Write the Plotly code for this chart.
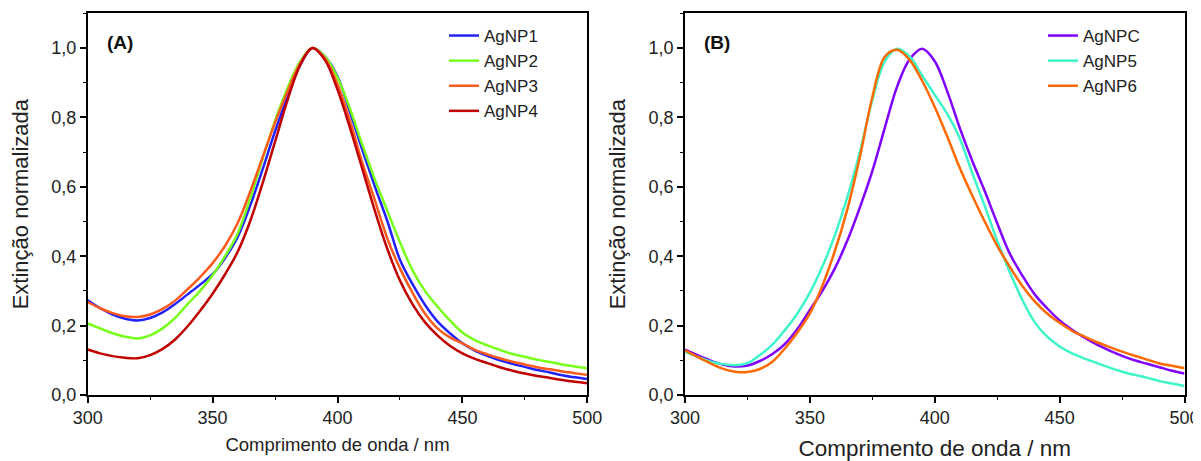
import plotly.graph_objects as go

# ---------------- data ----------------
wavelength = list(range(300, 505, 5))

agnp1 = [0.273, 0.250, 0.232, 0.220, 0.215, 0.222, 0.238, 0.262, 0.290, 0.318,
         0.348, 0.395, 0.455, 0.545, 0.650, 0.760, 0.860, 0.950, 1.000, 0.975,
         0.918, 0.815, 0.705, 0.600, 0.500, 0.390, 0.320, 0.260, 0.212, 0.178,
         0.149, 0.128, 0.113, 0.100, 0.090, 0.081, 0.072, 0.065, 0.057, 0.051, 0.046]
agnp2 = [0.206, 0.192, 0.178, 0.168, 0.163, 0.172, 0.192, 0.222, 0.262, 0.300,
         0.345, 0.400, 0.465, 0.565, 0.680, 0.790, 0.885, 0.960, 1.000, 0.975,
         0.915, 0.825, 0.720, 0.620, 0.530, 0.440, 0.360, 0.300, 0.255, 0.215,
         0.180, 0.158, 0.143, 0.130, 0.118, 0.110, 0.102, 0.095, 0.088, 0.082, 0.077]
agnp3 = [0.268, 0.250, 0.236, 0.227, 0.225, 0.232, 0.248, 0.272, 0.305, 0.340,
         0.380, 0.430, 0.495, 0.585, 0.685, 0.785, 0.875, 0.955, 1.000, 0.970,
         0.895, 0.790, 0.668, 0.560, 0.450, 0.365, 0.295, 0.235, 0.192, 0.166,
         0.149, 0.130, 0.117, 0.106, 0.096, 0.088, 0.080, 0.074, 0.068, 0.063, 0.058]
agnp4 = [0.131, 0.120, 0.112, 0.107, 0.106, 0.115, 0.133, 0.160, 0.198, 0.243,
         0.292, 0.348, 0.412, 0.500, 0.610, 0.730, 0.850, 0.950, 1.000, 0.965,
         0.880, 0.770, 0.650, 0.530, 0.420, 0.330, 0.262, 0.210, 0.172, 0.142,
         0.120, 0.104, 0.092, 0.080, 0.070, 0.062, 0.055, 0.049, 0.043, 0.038, 0.034]

agnpc = [0.131, 0.115, 0.100, 0.088, 0.082, 0.085, 0.098, 0.118, 0.147, 0.190,
         0.245, 0.300, 0.365, 0.445, 0.540, 0.645, 0.770, 0.890, 0.968, 0.998,
         0.962, 0.875, 0.770, 0.675, 0.588, 0.495, 0.408, 0.345, 0.290, 0.250,
         0.215, 0.188, 0.165, 0.145, 0.128, 0.113, 0.100, 0.090, 0.080, 0.070, 0.062]
agnp5 = [0.124, 0.110, 0.097, 0.089, 0.086, 0.092, 0.115, 0.145, 0.187, 0.235,
         0.295, 0.370, 0.460, 0.570, 0.700, 0.850, 0.962, 0.998, 0.975, 0.920,
         0.865, 0.810, 0.740, 0.640, 0.545, 0.445, 0.355, 0.275, 0.210, 0.168,
         0.140, 0.120, 0.105, 0.092, 0.079, 0.067, 0.058, 0.050, 0.040, 0.033, 0.026]
agnp6 = [0.129, 0.110, 0.092, 0.076, 0.067, 0.066, 0.075, 0.096, 0.134, 0.180,
         0.235, 0.315, 0.415, 0.535, 0.685, 0.858, 0.975, 0.995, 0.965, 0.905,
         0.830, 0.745, 0.655, 0.575, 0.500, 0.430, 0.370, 0.315, 0.270, 0.235,
         0.208, 0.185, 0.168, 0.152, 0.138, 0.125, 0.113, 0.102, 0.091, 0.084, 0.077]

names_a = ["AgNP1", "AgNP2", "AgNP3", "AgNP4"]
series_a = [agnp1, agnp2, agnp3, agnp4]
colors_a = ["#2222FF", "#77FF1A", "#FF5A1E", "#C00000"]

names_b = ["AgNPC", "AgNP5", "AgNP6"]
series_b = [agnpc, agnp5, agnp6]
colors_b = ["#8000FF", "#3DF5C8", "#FF6A00"]

x_ticks = [300, 350, 400, 450, 500]
y_ticks = [0.0, 0.2, 0.4, 0.6, 0.8, 1.0]

FONT = "Arial, Liberation Sans, Helvetica, sans-serif"
# page body adds an 8px offset, so the figure is 8px smaller and shifted
OFF = 8
W, H = 1201 - OFF, 461 - OFF

fig = go.Figure()
for n, s, c in zip(names_a, series_a, colors_a):
    fig.add_trace(go.Scatter(x=wavelength, y=s, name=n, mode="lines",
                             line=dict(color=c, width=2.5, shape="spline", smoothing=1.0),
                             xaxis="x", yaxis="y", legend="legend"))
for n, s, c in zip(names_b, series_b, colors_b):
    fig.add_trace(go.Scatter(x=wavelength, y=s, name=n, mode="lines",
                             line=dict(color=c, width=2.5, shape="spline", smoothing=1.0),
                             xaxis="x2", yaxis="y2", legend="legend2"))

ybot = 1 - (395 - OFF) / H
ytop = 1 - (13.3 - OFF) / H

def xaxis(domain, title_size, standoff, anchor):
    return dict(domain=domain, anchor=anchor, range=[300, 500], tickvals=x_ticks,
                automargin=False,
                showline=True, linecolor="black", linewidth=1.6, mirror=True,
                ticks="outside", ticklen=6, tickwidth=1.5, tickcolor="black",
                minor=dict(ticks="outside", ticklen=3, tickwidth=1.3, dtick=25, tick0=300,
                           tickcolor="black"),
                showgrid=False, zeroline=False,
                tickfont=dict(size=18, color="#222", family=FONT),
                title=dict(text="Comprimento de onda / nm", standoff=standoff,
                           font=dict(size=title_size, color="#222", family=FONT)))

def yaxis(anchor):
    return dict(domain=[ybot, ytop], anchor=anchor, range=[0, 1.1], tickvals=y_ticks,
                tickformat=".1f", automargin=False,
                showline=True, linecolor="black", linewidth=1.6, mirror=True,
                ticks="outside", ticklen=6, tickwidth=1.5, tickcolor="black",
                minor=dict(ticks="outside", ticklen=3, tickwidth=1.3, dtick=0.1, tick0=0,
                           tickcolor="black"),
                showgrid=False, zeroline=False,
                tickfont=dict(size=18, color="#222", family=FONT),
                title=dict(text="Extinção normalizada", standoff=17,
                           font=dict(size=22, color="#222", family=FONT)))

fig.update_layout(
    width=W, height=H,
    margin=dict(l=0, r=0, t=0, b=0, autoexpand=False),
    paper_bgcolor="white", plot_bgcolor="white",
    separators=", ",
    font=dict(family=FONT, color="#222"),
    xaxis=xaxis([(87.7 - OFF) / W, (587.3 - OFF) / W], 18.5, 11, "y"),
    yaxis=yaxis("x"),
    xaxis2=xaxis([(685 - OFF) / W, (1184.5 - OFF) / W], 22.5, 14, "y2"),
    yaxis2=yaxis("x2"),
    legend=dict(x=(444 - OFF) / W, y=1 - (18 - OFF) / H, xanchor="left", yanchor="top",
                bgcolor="rgba(0,0,0,0)", font=dict(size=17, family=FONT, color="#222"),
                tracegroupgap=0, itemwidth=30),
    legend2=dict(x=(1043 - OFF) / W, y=1 - (18 - OFF) / H, xanchor="left", yanchor="top",
                 bgcolor="rgba(0,0,0,0)", font=dict(size=17, family=FONT, color="#222"),
                 tracegroupgap=0, itemwidth=30),
    annotations=[
        dict(text="<b>(A)</b>", x=0.034, y=1.0, xref="x domain", yref="y domain",
             xanchor="left", yanchor="top", showarrow=False,
             font=dict(size=19, family=FONT, color="#111"), yshift=-17),
        dict(text="<b>(B)</b>", x=0.034, y=1.0, xref="x2 domain", yref="y2 domain",
             xanchor="left", yanchor="top", showarrow=False,
             font=dict(size=19, family=FONT, color="#111"), yshift=-17),
    ],
)

fig.write_html("out.html")
